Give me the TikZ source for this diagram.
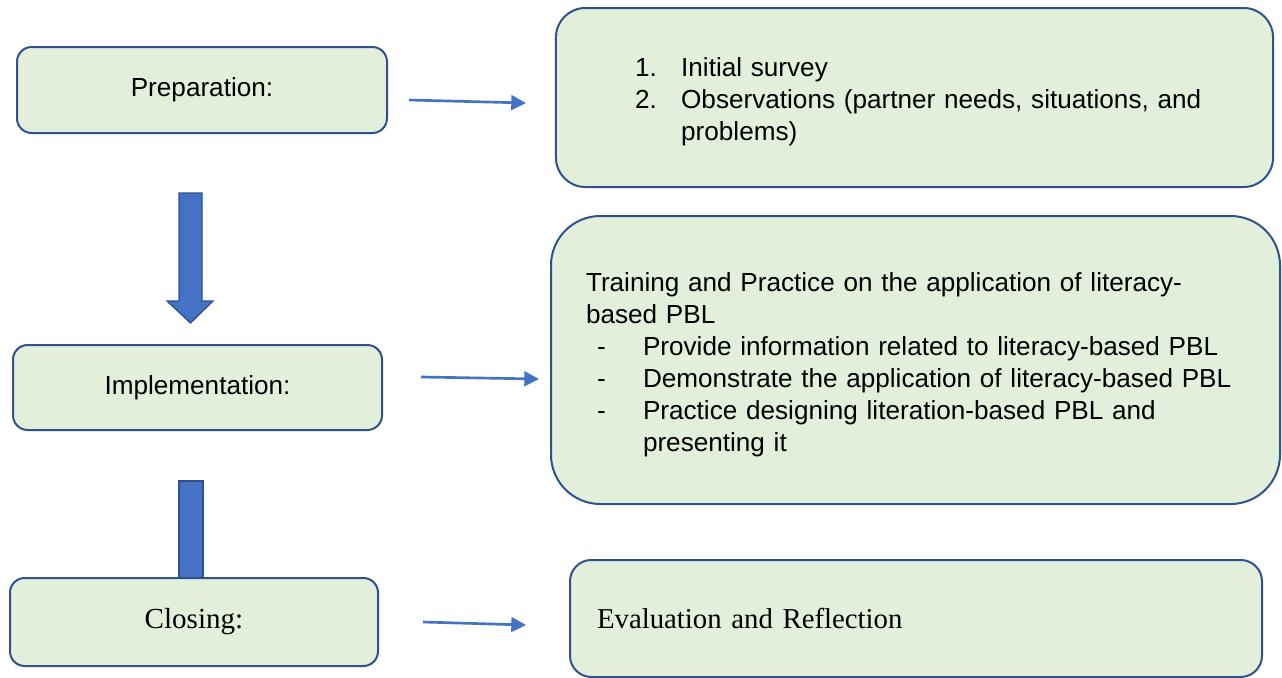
\documentclass[tikz,border=0pt]{standalone}
\usepackage{fontspec}
\setmainfont{Liberation Sans}
\newfontfamily\timesfont{Liberation Serif}
\usetikzlibrary{arrows.meta}
\definecolor{boxfill}{HTML}{E2EFDA}
\definecolor{boxline}{HTML}{2F528F}
\definecolor{arrowblue}{HTML}{4472C4}
\tikzset{
stage/.style={draw=boxline, fill=boxfill, line width=1.5pt, rounded corners=11pt,
    font=\fontsize{19.6}{24}\selectfont},
detail/.style={stage, align=left},
flow/.style={draw=arrowblue, line width=2pt, -{Triangle[length=11pt,width=11pt]}},
bigarrow/.style={fill=arrowblue, draw=boxline, line width=1pt}}

\begin{document}
\begin{tikzpicture}[x=0.75pt,y=-0.75pt]
\useasboundingbox (0,0) rectangle (1282,678);
\fill[white] (0,0) rectangle (1282,678);

\draw[bigarrow] (179,193) -- (202,193) -- (202,301) -- (213,301) -- (190.5,323) -- (167,301) -- (179,301) -- cycle;
\draw[bigarrow] (179,481) rectangle (203,582);

\node[stage, minimum width=277.5pt, minimum height=64.5pt] (prep) at (202,90) {Preparation:};
\node[stage, minimum width=276.75pt, minimum height=63.75pt] (impl) at (197.5,387.5) {Implementation:};
\node[stage, minimum width=276pt, minimum height=66pt, font=\timesfont\fontsize{21.8}{26}\selectfont] (clos) at (194,622) {Closing:};

\node[detail, rounded corners=22pt, text width=419pt, inner xsep=59.4pt, minimum height=134.25pt] (survey) at (914.5,97.5) {%
\begin{tabular}{@{}p{34.5pt}@{}l@{}}
1.\rule{0pt}{24.3pt} & Initial survey\\
2. & Observations (partner needs, situations, and\\
   & problems)
\end{tabular}};
\node[detail, rounded corners=37pt, text width=494.25pt, inner xsep=26.25pt, minimum height=216pt] (train) at (915.5,360) {%
\begin{tabular}{@{\hspace{8.25pt}}p{34.5pt}@{}l@{}}
\multicolumn{2}{@{}l@{}}{\rule{0pt}{24.3pt}Training and Practice on the application of literacy-}\\
\multicolumn{2}{@{}l@{}}{based PBL}\\
- & Provide information related to literacy-based PBL\\
- & Demonstrate the application of literacy-based PBL\\
- & Practice designing literation-based PBL and\\
  & presenting it
\end{tabular}};
\node[detail, rounded corners=16pt, text width=478.5pt, inner xsep=20.25pt, minimum height=87.75pt, font=\timesfont\fontsize{21.6}{26}\selectfont] (eval) at (916,618.5) {Evaluation and Reflection};

\draw[flow] ([shift={(21,10)}]prep.east) -- ([shift={(-29,5.5)}]survey.west);
\draw[flow] ([shift={(38,-10.5)}]impl.east) -- ([shift={(-11,19)}]train.west);
\draw[flow] ([shift={(44,0)}]clos.east) -- ([shift={(-43,6.5)}]eval.west);

\end{tikzpicture}
\end{document}
